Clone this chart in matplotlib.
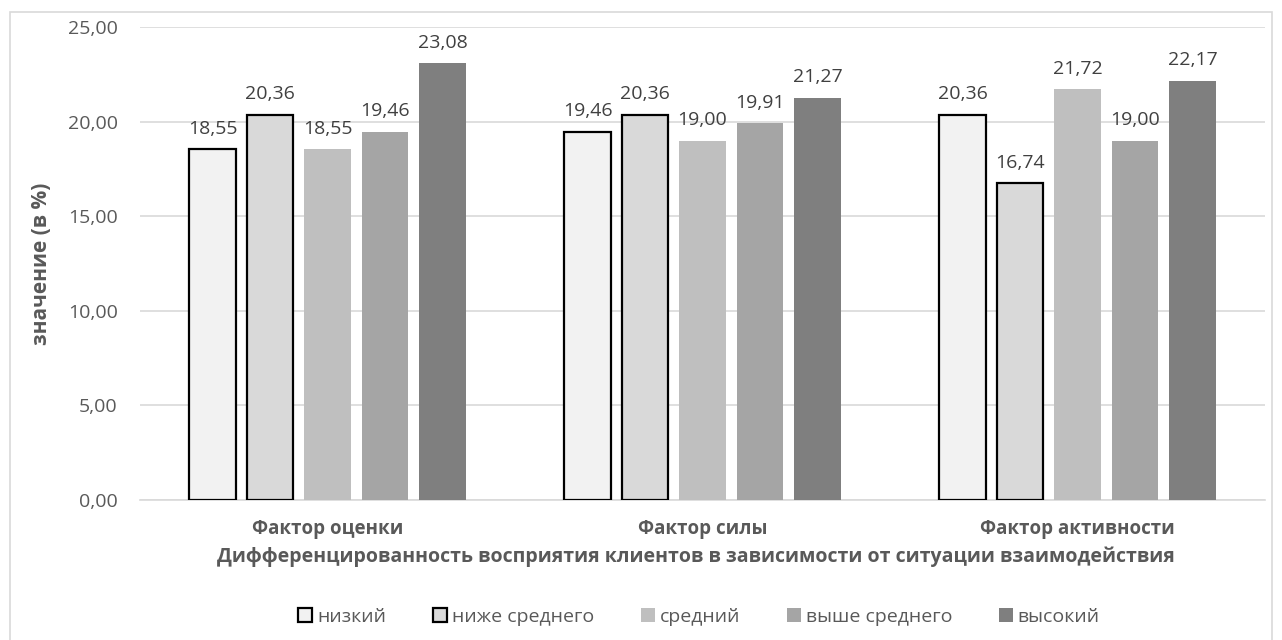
import numpy as np
import matplotlib.pyplot as plt
from matplotlib.patches import Rectangle

plt.rcParams['font.family'] = ['Open Sans', 'DejaVu Sans']

categories = ['Фактор оценки', 'Фактор силы', 'Фактор активности']
levels = ['низкий', 'ниже среднего', 'средний', 'выше среднего', 'высокий']
values = [
    [18.55, 19.46, 20.36],  # низкий
    [20.36, 20.36, 16.74],  # ниже среднего
    [18.55, 19.00, 21.72],  # средний
    [19.46, 19.91, 19.00],  # выше среднего
    [23.08, 21.27, 22.17],  # высокий
]
colors = ['#f2f2f2', '#d9d9d9', '#bfbfbf', '#a5a5a5', '#7f7f7f']
edges = ['black', 'black', 'none', 'none', 'none']

W, H = 1282, 640
fig = plt.figure(figsize=(W / 100, H / 100), dpi=100)
# chart frame, bottom edge runs past the image
fig.patches.append(Rectangle((10 / W, -5 / H), 1262 / W, 633 / H,
                             transform=fig.transFigure, fill=False,
                             edgecolor='#d9d9d9', linewidth=1.2))
ax = fig.add_axes([140 / W, 1 - 500 / H, 1125 / W, 473 / H])

x = np.arange(len(categories))
step = 0.1533
width = 0.125
for i, (lvl, vals) in enumerate(zip(levels, values)):
    pos = x + (i - 2) * step
    bars = ax.bar(pos, vals, width, color=colors[i], edgecolor=edges[i],
                  linewidth=1.6 if edges[i] != 'none' else 0, label=lvl, zorder=3)
    for b, v in zip(bars, vals):
        ax.text(b.get_x() + b.get_width() / 2, v + 0.6, f'{v:.2f}'.replace('.', ','),
                ha='center', va='bottom', fontsize=14, color='#404040')

ax.set_xlim(-0.5, 2.5)
ax.set_ylim(0, 25)
yt = np.arange(0, 26, 5)
ax.set_yticks(yt)
ax.set_yticklabels([f'{t:.2f}'.replace('.', ',') for t in yt])
ax.grid(axis='y', color='#d9d9d9', linewidth=1.2, zorder=0)
for s in ['top', 'right', 'left']:
    ax.spines[s].set_visible(False)
ax.spines['bottom'].set_color('#d9d9d9')
ax.spines['bottom'].set_linewidth(1.2)
ax.tick_params(axis='both', length=0, labelsize=14, labelcolor='#595959')
ax.tick_params(axis='y', pad=16)
ax.set_xticks(x)
ax.set_xticklabels(categories, fontweight='bold', fontsize=13.5)
ax.tick_params(axis='x', pad=14)

ax.set_xlabel('Дифференцированность восприятия клиентов в зависимости от ситуации взаимодействия',
              fontsize=14, fontweight='bold', color='#595959', va='center')
ax.xaxis.set_label_coords(0.494, -57 / 473)
ax.set_ylabel('значение (в %)', fontsize=15, fontweight='bold', color='#595959', va='center')
ax.yaxis.set_label_coords(-98 / 1125, 0.5)

ax.legend(loc='center', bbox_to_anchor=(699 / W, 1 - 617 / H), bbox_transform=fig.transFigure,
          ncol=5, frameon=False, fontsize=14, handlelength=0.72, handleheight=0.72,
          handletextpad=0.25, columnspacing=2.4, labelcolor='#595959')

fig.savefig('out.png', dpi=100)
